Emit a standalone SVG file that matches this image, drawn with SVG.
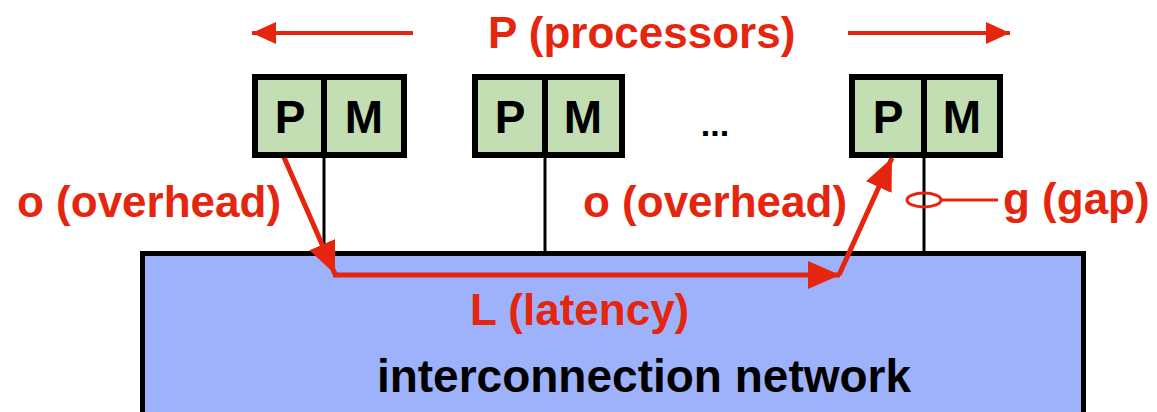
<svg xmlns="http://www.w3.org/2000/svg" width="1157" height="412" viewBox="0 0 1157 412">
<style>
.cell{fill:#C4DEB4;stroke:#000;stroke-width:6}
.lbl{font-family:"Liberation Sans",Arial,sans-serif;font-weight:bold;font-size:46px;fill:#000;text-anchor:middle}
.red{font-family:"Liberation Sans",Arial,sans-serif;font-weight:bold;font-size:44px;fill:#E5250E}
.wire{stroke:#000;stroke-width:3;fill:none}
.rl{stroke:#E5250E;stroke-width:5;fill:none}
</style>
<defs>
<marker id="ah" markerUnits="userSpaceOnUse" markerWidth="32" markerHeight="28" refX="32" refY="14" orient="auto">
<path d="M0,0 L32,14 L0,28 z" fill="#E5250E"/>
</marker>
<marker id="ahs" markerUnits="userSpaceOnUse" markerWidth="24" markerHeight="22" refX="24" refY="11" orient="auto">
<path d="M0,0 L24,11 L0,22 z" fill="#E5250E"/>
</marker>
</defs>
<g id="network">
<rect x="142.5" y="253.5" width="941" height="170" fill="#9DB2FB" stroke="#000" stroke-width="5"/>
<text x="644" y="392" class="lbl" font-size="43">interconnection network</text>
</g>
<g id="connectors">
<line class="wire" x1="324" y1="157" x2="324" y2="252"/>
<line class="wire" x1="545" y1="157" x2="545" y2="252"/>
<line class="wire" x1="924" y1="157" x2="924" y2="252"/>
<line x1="413" y1="33" x2="252" y2="33" stroke="#E5250E" stroke-width="4" marker-end="url(#ahs)"/>
<line x1="848" y1="33" x2="1010" y2="33" stroke="#E5250E" stroke-width="4" marker-end="url(#ahs)"/>
<line class="rl" x1="283" y1="155" x2="335" y2="274" marker-end="url(#ah)"/>
<line class="rl" x1="333" y1="275" x2="840" y2="275" marker-end="url(#ah)"/>
<line class="rl" x1="839" y1="275" x2="892" y2="158" marker-end="url(#ah)"/>
<ellipse cx="924" cy="200" rx="17" ry="7" fill="none" stroke="#E5250E" stroke-width="3"/>
<line x1="941" y1="200" x2="998" y2="200" stroke="#E5250E" stroke-width="3"/>
</g>
<g id="node1">
<rect class="cell" x="255" y="77" width="69" height="78"/>
<rect class="cell" x="324" y="77" width="80" height="78"/>
<text class="lbl" x="290" y="133">P</text>
<text class="lbl" x="364" y="133">M</text>
</g>
<g id="node2">
<rect class="cell" x="475" y="77" width="70" height="78"/>
<rect class="cell" x="545" y="77" width="77" height="78"/>
<text class="lbl" x="510" y="133">P</text>
<text class="lbl" x="583" y="133">M</text>
</g>
<g id="node3">
<rect class="cell" x="852" y="77" width="72" height="78"/>
<rect class="cell" x="924" y="77" width="76" height="78"/>
<text class="lbl" x="888" y="133">P</text>
<text class="lbl" x="962" y="133">M</text>
</g>
<g id="labels">
<text class="red" x="488" y="48" font-size="45">P (processors)</text>
<text class="red" x="17" y="217">o (overhead)</text>
<text class="red" x="583" y="217">o (overhead)</text>
<text class="red" x="1003" y="214">g (gap)</text>
<text class="red" x="470" y="325">L (latency)</text>
<text x="715" y="136" font-family="Liberation Sans,Arial,sans-serif" font-weight="bold" font-size="34" text-anchor="middle">...</text>
</g>
</svg>
